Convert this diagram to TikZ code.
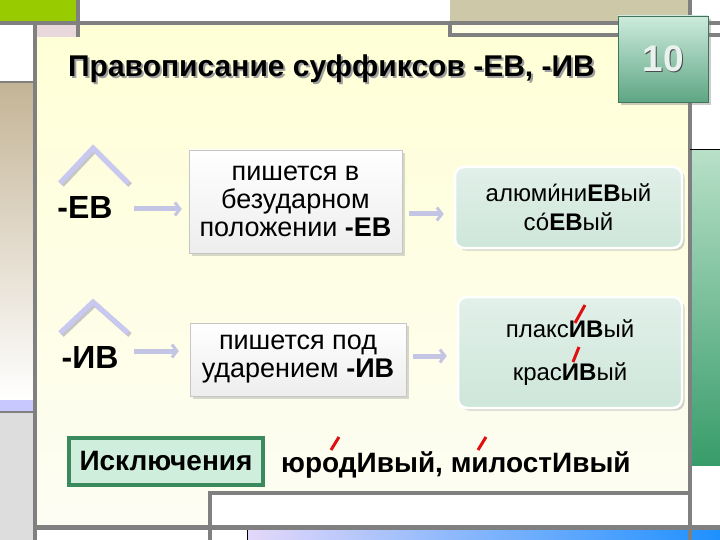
\documentclass[tikz,border=0pt]{standalone}
\usepackage{fontspec}
\setmainfont{Liberation Sans}
\usetikzlibrary{arrows.meta, shadows}
\definecolor{framegray}{RGB}{128,128,128}
\definecolor{topgreen}{RGB}{153,204,0}
\definecolor{toptan}{RGB}{204,200,168}
\definecolor{boxcream}{RGB}{255,255,230}
\definecolor{sidetan}{RGB}{196,180,150}
\definecolor{sidelav}{RGB}{200,200,255}
\definecolor{sidegray}{RGB}{221,221,221}
\definecolor{pinkish}{RGB}{232,216,220}
\definecolor{paneltop}{RGB}{255,255,214}
\definecolor{panelbottom}{RGB}{253,253,244}
\definecolor{sidegreentop}{RGB}{184,224,200}
\definecolor{sidegreenbot}{RGB}{56,156,106}
\definecolor{barlav}{RGB}{228,216,250}
\definecolor{barblue}{RGB}{30,144,255}
\definecolor{badgetop}{RGB}{205,235,220}
\definecolor{badgebot}{RGB}{94,166,132}
\definecolor{badgetext}{RGB}{234,242,240}
\definecolor{arrowlav}{RGB}{196,196,228}
\definecolor{hatlav}{RGB}{200,200,240}
\definecolor{exmint}{RGB}{206,230,218}
\definecolor{excgreen}{RGB}{58,138,94}
\definecolor{excfill}{RGB}{208,238,220}
\definecolor{stressred}{RGB}{224,16,16}

\begin{document}
\begin{tikzpicture}[x=1pt, y=-1pt,
    frame/.style={draw=framegray, line width=3.5pt},
    rulebox/.style={draw=gray!45, top color=white, bottom color=gray!14, drop shadow={opacity=0.3}, align=center, inner sep=0pt},
    exbox/.style={draw=white, line width=2.5pt, rounded corners=9pt, top color=exmint!60!white, bottom color=exmint, drop shadow={opacity=0.35}, align=center, inner sep=0pt},
    flow/.style={draw=arrowlav, line width=5pt, -{Straight Barb[length=5pt, width=13pt, line width=3pt]}},
    hat/.style={draw=hatlav, line width=5pt},
    stress/.style={draw=stressred, line width=3pt}]
      \newcommand\TITLEFONT{\fontsize{30}{32}\selectfont\bfseries}
      \newcommand\BADGEFONT{\fontsize{37}{39}\selectfont\bfseries}
      \newcommand\SUFFONT{\fontsize{32}{34}\selectfont\bfseries}
      \newcommand\RULEFONT{\fontsize{27}{28}\selectfont}
      \newcommand\EXFONT{\fontsize{24}{29}\selectfont}
      \newcommand\EXCFONT{\fontsize{28}{30}\selectfont\bfseries}
      \newcommand\WORDFONT{\fontsize{28}{30}\selectfont\bfseries}

      \useasboundingbox (0,0) rectangle (720,540);

      % background frame
      \fill[white] (0,0) rectangle (720,540);
      \fill[topgreen] (0,0) rectangle (78,23);
      \fill[toptan] (450,0) rectangle (690,23);
      \fill[top color=sidetan, bottom color=white] (0,82) rectangle (35,400);
      \fill[sidelav] (0,400) rectangle (35,412);
      \fill[sidegray] (0,412) rectangle (35,540);
      \fill[top color=paneltop, bottom color=panelbottom] (35,23) rectangle (690,527);
      \fill[pinkish] (35,23) rectangle (78,37);
      \fill[top color=sidegreentop, bottom color=sidegreenbot] (690,150) rectangle (720,465);
      \fill[left color=barlav, right color=barblue] (247,530) rectangle (720,540);
      \draw[frame, fill=boxcream] (450,23) rectangle (690,35);
      \draw[frame, fill=white] (210,493) rectangle (690,527);
      \draw[frame] (0,23) -- (720,23);
      \draw[frame] (35,23) -- (35,540);
      \draw[frame] (690,0) -- (690,540);
      \draw[frame] (78,0) -- (78,37);
      \draw[frame] (690,35) -- (720,35);
      \draw[frame, line width=2pt] (0,82) -- (35,82);
      \draw[frame, line width=2pt] (0,412) -- (35,412);
      \draw[frame, line width=5pt] (35,527) -- (720,527);
      \draw[frame] (210,527) -- (210,540);
      \draw[black, line width=1pt] (690,150) -- (720,150);
      \draw[black, line width=1pt] (247,530) -- (247,540);

      % title and badge
      \node[anchor=base, font=\TITLEFONT, text=gray!75] at (333.5,79) {Правописание суффиксов -ЕВ, -ИВ};
      \node (title) [anchor=base, font=\TITLEFONT] at (331.5,77) {Правописание суффиксов -ЕВ, -ИВ};
      \node (badge) [minimum width=90pt, minimum height=86pt, top color=badgetop, bottom color=badgebot, draw=badgebot!70!black, line width=0.5pt, drop shadow={opacity=0.4}] at (663,59) {};
      \node[font=\BADGEFONT, text=gray!60!black] at ([xshift=1.2pt, yshift=-1.2pt]badge.center) {10};
      \node[font=\BADGEFONT, text=badgetext] at (badge.center) {10};

      % suffixes
      \draw[hat, draw=gray!45] (62,185) -- (95,150) -- (130,185);
      \draw[hat] (60,183) -- (93,148) -- (128,183);
      \draw[hat, draw=gray!45] (62,335) -- (95,304) -- (130,335);
      \draw[hat] (60,333) -- (93,302) -- (128,333);
      \node (ev) [font=\SUFFONT] at (85,207) {-ЕВ};
      \node (iv) [font=\SUFFONT] at (90,357) {-ИВ};

      % rules and examples
      \node (evrule) [rulebox, minimum width=213pt, minimum height=103pt, font=\RULEFONT] at (295.5,201.5) {пишется в\\безударном\\положении \textbf{-ЕВ}};
      \node (ivrule) [rulebox, minimum width=216pt, minimum height=73pt, font=\RULEFONT] at (298,359.5) {пишется под\\ударением \textbf{-ИВ}};
      \node (evex) [exbox, minimum width=227pt, minimum height=81pt, font=\EXFONT] at (568.5,207.5) {алюми́ни\textbf{ЕВ}ый\\со́\textbf{ЕВ}ый};
      \node (ivex) [exbox, minimum width=224pt, minimum height=111pt, font=\EXFONT] at (570,352.5) {плакс\textbf{ИВ}ый\\[14pt]крас\textbf{ИВ}ый};

      \draw[flow, shorten <=18pt, shorten >=7pt] (ev.east |- 0,209) -- (evrule.west |- 0,209);
      \draw[flow, shorten <=12pt, shorten >=11pt] (iv.east |- 0,351) -- (ivrule.west |- 0,351);
      \draw[flow, shorten <=7pt, shorten >=10pt] (evrule.east |- 0,214) -- (evex.west |- 0,214);
      \draw[flow, shorten <=7pt, shorten >=10pt] (ivrule.east |- 0,356) -- (ivex.west |- 0,356);

      \draw[stress] (575,323) -- (585,305);
      \draw[stress] (573,362) -- (579,347);

      % exceptions
      \node (exc) [draw=excgreen, line width=4pt, fill=excfill, minimum width=194pt, minimum height=47pt, font=\EXCFONT] at (166,461.5) {Исключения};
      \node (words) [anchor=base west, inner sep=0pt, font=\WORDFONT] at (281,472) {юродИвый, милостИвый};
      \draw[stress] (331,450) -- (339,437);
      \draw[stress] (478,450) -- (486,437);

    \end{tikzpicture}
\end{document}
